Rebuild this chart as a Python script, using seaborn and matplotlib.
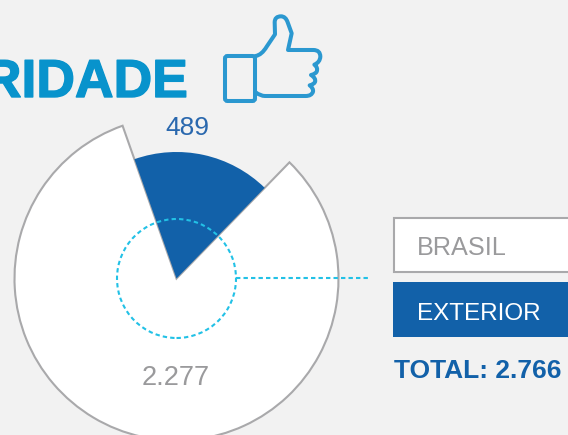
import matplotlib
matplotlib.use("Agg")
import matplotlib.pyplot as plt
import matplotlib.patheffects as pe
import seaborn as sns
from matplotlib.patches import Circle, FancyBboxPatch, PathPatch, Rectangle
from matplotlib.path import Path

categories = ["EXTERIOR", "BRASIL"]
values = [489, 2277]
value_labels = ["489", "2.277"]
total_label = "TOTAL: 2.766"
title_label = "RIDADE"

BG = "#f2f2f2"
BLUE = "#1261a9"
GREY = "#a9a9ab"
CYAN = "#22c1e6"
TITLE = "#0893cc"
ICON = "#2b98d0"

W, H = 568, 435
sns.set_theme(style="white", rc={"figure.facecolor": BG, "axes.facecolor": BG})
plt.rcParams["font.family"] = ["Liberation Sans", "DejaVu Sans"]

fig = plt.figure(figsize=((W + 0.01) / 100, (H + 0.01) / 100), dpi=100)
ax = fig.add_axes([0, 0, 1, 1])


def Y(v):
    return H - v


center = (176.5, Y(278.5))
R_outer, R_inner, R_ring = 162, 126.5, 59.5

# outer white wedge: only the BRASIL slice is visible
outer, _ = ax.pie(values, radius=R_outer, center=center, startangle=45.8,
                  colors=[BG, "white"], wedgeprops={"linewidth": 0})
outer[0].set_visible(False)
outer[1].set_edgecolor(GREY)
outer[1].set_linewidth(1.5)
# inner blue wedge: only the EXTERIOR slice is visible
inner, _ = ax.pie(values, radius=R_inner, center=center, startangle=45.8,
                  colors=[BLUE, "white"], wedgeprops={"linewidth": 0})
inner[1].set_visible(False)

ax.set_xlim(0, W)
ax.set_ylim(0, H)
ax.set_aspect("equal")
ax.set_axis_off()

# dashed ring and leader
dash = (0, (2.1, 1.5))
ax.add_patch(Circle(center, R_ring, fill=False, ec=CYAN, lw=1.5, ls=dash, zorder=5))
ax.plot([center[0] + R_ring, 371], [center[1], center[1]], color=CYAN, lw=1.5, ls=dash, zorder=5)

# value labels
ax.text(187, Y(135), value_labels[0], color="#2a68ae", fontsize=19, va="baseline", ha="center")
ax.text(176, Y(385), value_labels[1], color="#9a9a9c", fontsize=19.6, va="baseline", ha="center")

# legend boxes
ax.add_patch(Rectangle((393.5, Y(272.5)), 200, 54, fc="white", ec=GREY, lw=1.5))
ax.add_patch(Rectangle((393, Y(337.5)), 200, 55, fc=BLUE, ec="none"))
ax.text(417, Y(255), categories[1], color="#9a9a9c", fontsize=18.2, va="baseline", ha="left")
ax.text(417, Y(320), categories[0], color="white", fontsize=17.5, va="baseline", ha="left")
ax.text(394, Y(378), total_label, color=BLUE, fontsize=19, fontweight="bold",
        va="baseline", ha="left")

# heading
ax.text(188, Y(97), title_label, color=TITLE, fontsize=38.5, fontweight="bold",
        va="baseline", ha="right",
        path_effects=[pe.withStroke(linewidth=1.0, foreground=TITLE)])

# thumbs-up icon (decoration)
ax.add_patch(FancyBboxPatch((225, Y(101)), 30, 45, boxstyle="round,pad=0,rounding_size=2.5",
                            fc="none", ec=ICON, lw=2.9))


def Z(zx, zy):
    return (215 + zx / 3, Y(5 + zy / 3))


M, L, C = Path.MOVETO, Path.LINETO, Path.CURVE3
hand = [
    (M, 122, 153),
    (C, 140, 150), (C, 155, 125),
    (L, 180, 88),
    (L, 179, 52),
    (C, 179, 34), (C, 198, 34),
    (C, 212, 34), (C, 218, 52),
    (L, 230, 85),
    (L, 219, 135),
    (L, 295, 135),
    (C, 316, 135), (C, 316, 155),
    (C, 315, 172), (C, 298, 179),
    (C, 310, 188), (C, 305, 200),
    (C, 302, 207), (C, 288, 210),
    (C, 304, 220), (C, 300, 231),
    (C, 296, 239), (C, 284, 241),
    (C, 296, 250), (C, 294, 260),
    (C, 290, 273), (C, 272, 273),
    (L, 150, 273),
    (C, 136, 273), (C, 122, 262),
]
codes = [h[0] for h in hand]
verts = [Z(h[1], h[2]) for h in hand]
ax.add_patch(PathPatch(Path(verts, codes), fc="none", ec=ICON, lw=2.9, capstyle="round", joinstyle="round"))

fig.savefig("out.png", dpi=100, facecolor=BG)
